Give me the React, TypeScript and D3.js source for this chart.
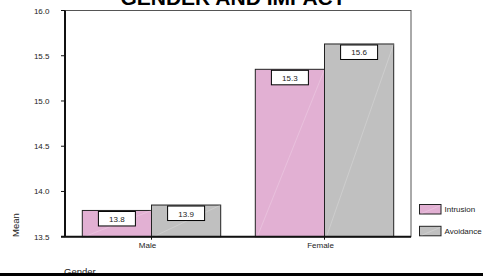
import React from 'react';
import * as d3 from 'd3';

const categories = ['Male', 'Female'];
const seriesNames = ['Intrusion', 'Avoidance'];
const intrusion = [13.79, 15.35];
const avoidance = [13.85, 15.63];
const valueLabels = [
  ['13.8', '13.9'],
  ['15.3', '15.6'],
];
const yTicks = [13.5, 14.0, 14.5, 15.0, 15.5, 16.0];

const COLORS = ['#E2B0D3', '#C0C0C0'];
const W = 483;
const H = 276;
const FONT = 'Arial, "Liberation Sans", sans-serif';

export default function App() {
  const left = 65;
  const right = 411;
  const top = 10.5;
  const bottom = 236.7;

  const x0 = d3.scaleBand<string>().domain(categories).range([left, right]).paddingInner(0.2).paddingOuter(0.1);
  const x1 = d3.scaleBand<string>().domain(seriesNames).range([0, x0.bandwidth()]);
  const y = d3.scaleLinear().domain([13.5, 16]).range([bottom, top]);

  const series = [intrusion, avoidance];

  return (
    <svg
      width={W}
      height={H}
      style={{ position: 'absolute', left: 0, top: 0, background: '#fff' }}
      fontFamily={FONT}
    >
      {/* title sits partly above the top edge, as in the source */}
      <text x={233} y={5} textAnchor="middle" fontSize={21} fontWeight="bold" fill="#000">
        GENDER AND IMPACT
      </text>

      {/* frame */}
      <rect x={left} y={top} width={right - left} height={bottom - top} fill="none" stroke="#555" strokeWidth={1} />

      {/* bars */}
      {categories.map((cat, ci) => (
        <g key={cat}>
          {seriesNames.map((s, si) => {
            const bx = (x0(cat) ?? 0) + (x1(s) ?? 0);
            const bw = x1.bandwidth();
            const v = series[si][ci];
            const by = y(v);
            const bh = bottom - by;
            const cx = bx + bw / 2;
            return (
              <g key={s}>
                <rect x={bx} y={by} width={bw} height={bh} fill={COLORS[si]} stroke="#222" strokeWidth={1} />
                <line x1={bx + 2} y1={bottom} x2={bx + bw} y2={by} stroke="#fff" strokeOpacity={0.3} strokeWidth={0.7} />
                <rect x={cx - 18.5} y={by + 1} width={37} height={14.5} fill="#fff" stroke="#000" strokeWidth={1} />
                <text x={cx} y={by + 11.5} textAnchor="middle" fontSize={8} fill="#222">
                  {valueLabels[ci][si]}
                </text>
              </g>
            );
          })}
        </g>
      ))}

      {/* y axis */}
      <line x1={left} y1={top} x2={left} y2={bottom} stroke="#111" strokeWidth={2} />
      {yTicks.map((t) => (
        <g key={t}>
          <line x1={left - 4} x2={left} y1={y(t)} y2={y(t)} stroke="#111" strokeWidth={1} />
          <text x={49.5} y={y(t) + 3} textAnchor="end" fontSize={8} fill="#222">
            {t.toFixed(1)}
          </text>
        </g>
      ))}

      {/* x axis */}
      <line x1={left - 4} x2={right} y1={bottom} y2={bottom} stroke="#111" strokeWidth={2} />
      {categories.map((cat) => {
        const cx = (x0(cat) ?? 0) + x0.bandwidth() / 2;
        return (
          <g key={cat}>
            <line x1={cx} x2={cx} y1={bottom} y2={bottom + 3} stroke="#111" strokeWidth={1} />
            <text x={cx - 4} y={248} textAnchor="middle" fontSize={8} fill="#222">
              {cat}
            </text>
          </g>
        );
      })}

      <text transform="translate(18.5,225) rotate(-90)" textAnchor="middle" fontSize={9.5} fill="#222">
        Mean
      </text>
      <text x={64} y={275} fontSize={9.5} fill="#222">
        Gender
      </text>

      {/* legend */}
      {seriesNames.map((s, si) => (
        <g key={s} transform={`translate(419.5,${204.5 + si * 21.8})`}>
          <rect width={21.5} height={9.5} fill={COLORS[si]} stroke="#222" strokeWidth={1} />
          <line x1={2} y1={9} x2={21} y2={1} stroke="#fff" strokeOpacity={0.3} strokeWidth={0.7} />
          <text x={25} y={7.8} fontSize={8} fill="#222">
            {s}
          </text>
        </g>
      ))}

      <rect x={0} y={273} width={W} height={3} fill="#000" />
    </svg>
  );
}
